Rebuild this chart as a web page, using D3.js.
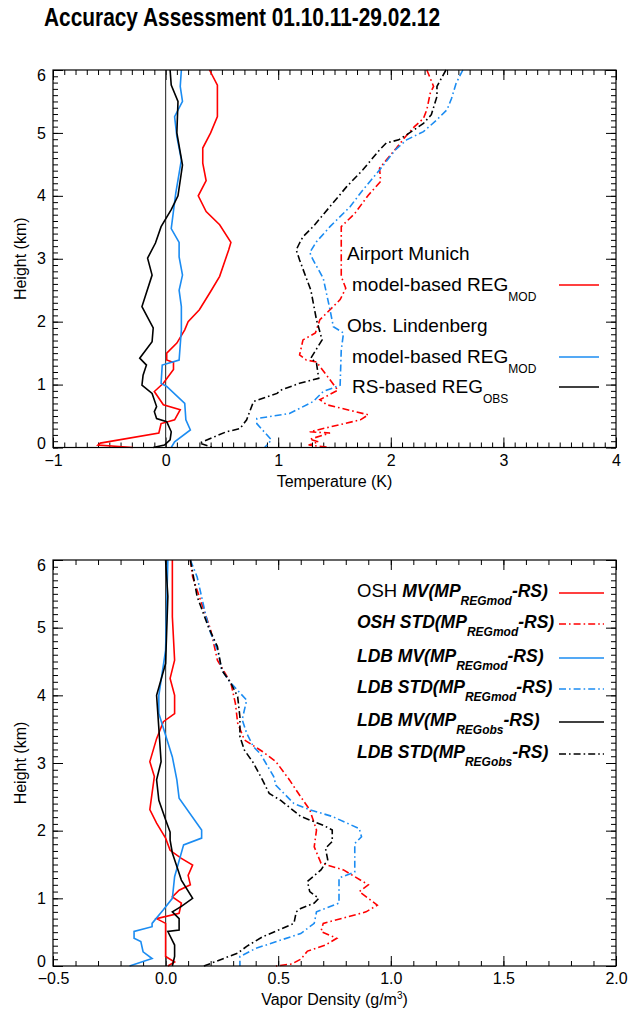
<!DOCTYPE html>
<html>
<head>
<meta charset="utf-8">
<script src="https://cdn.jsdelivr.net/npm/d3@7"></script>
<style>
  body { margin: 0; background: #fff; }
  svg text { font-family: "Liberation Sans", Arial, Helvetica, sans-serif; }
</style>
</head>
<body>
<svg id="chart" width="635" height="1010"></svg>
<script>
// ---- data: [value, height in km] ----
// temperature panel (K)
var tMunMv = [[0.39,6],[0.46,5.76],[0.46,5.26],[0.40,5.0],[0.33,4.76],[0.33,4.52],[0.36,4.24],[0.29,4.0],[0.36,3.75],[0.48,3.54],[0.58,3.26],[0.56,3.14],[0.48,2.72],[0.40,2.48],[0.30,2.19],[0.20,2.0],[0.17,1.87],[0.10,1.66],[0.01,1.50],[0.01,1.39],[0.07,1.35],[0.07,1.24],[-0.02,1.02],[-0.10,0.89],[-0.02,0.68],[0.13,0.60],[0.08,0.44],[0.02,0.41],[-0.04,0.38],[-0.06,0.23],[-0.58,0.07],[-0.60,0.04],[-0.29,0.0]];
var tLdbMv = [[0.14,6],[0.13,5.74],[0.15,5.50],[0.08,5.26],[0.10,4.94],[0.14,4.57],[0.09,4.04],[0.05,3.48],[0.12,3.26],[0.12,3.03],[0.15,2.74],[0.12,2.50],[0.14,2.24],[0.14,1.87],[0.12,1.39],[-0.03,1.31],[-0.04,1.02],[0.01,0.97],[0.17,0.70],[0.18,0.44],[0.22,0.28],[0.08,0.09],[0.05,0.0]];
var tObsMv = [[0.04,6],[0.05,5.76],[0.11,5.50],[0.10,5.0],[0.15,4.49],[0.11,4.0],[0.05,3.78],[-0.04,3.51],[-0.09,3.25],[-0.16,3.01],[-0.12,2.74],[-0.21,2.24],[-0.11,1.90],[-0.12,1.68],[-0.23,1.42],[-0.17,1.31],[-0.20,1.15],[-0.21,0.99],[-0.12,0.86],[-0.08,0.65],[-0.10,0.57],[-0.08,0.46],[0.01,0.41],[0.05,0.25],[0.04,0.12],[-0.01,0.04],[-0.11,0.0]];
var tMunStd = [[2.32,6],[2.38,5.74],[2.35,5.63],[2.32,5.37],[2.29,5.23],[2.21,5.10],[2.13,4.94],[2.05,4.76],[1.96,4.57],[1.90,4.44],[1.91,4.23],[1.80,4.01],[1.68,3.72],[1.56,3.51],[1.56,2.98],[1.56,2.72],[1.60,2.53],[1.55,2.35],[1.37,2.03],[1.33,1.82],[1.22,1.71],[1.19,1.47],[1.25,1.39],[1.34,1.36],[1.53,0.91],[1.37,0.76],[1.43,0.68],[1.80,0.52],[1.73,0.44],[1.28,0.25],[1.46,0.23],[1.28,0.13],[1.36,0.09],[1.27,0.04],[1.46,0.0]];
var tLdbStd = [[2.64,6],[2.58,5.79],[2.54,5.55],[2.50,5.37],[2.41,5.21],[2.29,5.02],[2.14,4.89],[2.04,4.73],[1.90,4.41],[1.75,4.09],[1.64,3.83],[1.46,3.51],[1.34,3.27],[1.28,3.10],[1.31,2.98],[1.40,2.69],[1.46,2.19],[1.49,1.92],[1.58,1.82],[1.56,1.55],[1.55,0.99],[1.40,0.89],[1.31,0.73],[1.10,0.54],[0.81,0.46],[0.81,0.38],[0.94,0.12],[0.88,0.0]];
var tObsStd = [[2.49,6],[2.41,5.74],[2.41,5.58],[2.36,5.29],[2.29,5.15],[2.14,4.97],[2.07,4.89],[1.96,4.84],[1.90,4.73],[1.75,4.41],[1.61,4.15],[1.46,3.83],[1.31,3.51],[1.22,3.35],[1.19,3.25],[1.16,3.14],[1.19,2.98],[1.29,2.50],[1.34,2.03],[1.39,1.71],[1.29,1.42],[1.34,1.34],[1.36,1.10],[1.19,1.02],[1.02,0.91],[0.99,0.86],[0.78,0.73],[0.72,0.44],[0.66,0.30],[0.54,0.25],[0.30,0.07],[0.42,0.0]];

// vapor density panel (g/m3)
var vOshMv = [[0.03,6],[0.03,5.16],[0.04,4.52],[0.02,4.25],[0.04,4.0],[0.04,3.73],[-0.01,3.61],[-0.04,3.36],[-0.07,3.02],[-0.05,2.80],[-0.07,2.31],[-0.04,2.11],[0.00,1.89],[0.02,1.71],[0.07,1.59],[0.12,1.49],[0.10,1.34],[0.11,1.20],[0.06,1.12],[0.03,1.02],[0.07,0.93],[0.06,0.78],[-0.04,0.70],[0.00,0.63],[0.00,0.26],[0.00,0.14],[0.04,0.06],[0.01,0.0]];
var vLdbMv = [[0.01,6],[0.00,4.67],[-0.03,4.0],[-0.03,3.73],[0.00,3.41],[0.03,3.09],[0.05,2.75],[0.06,2.48],[0.16,2.01],[0.16,1.89],[0.08,1.79],[0.04,1.32],[0.03,1.00],[-0.01,0.83],[-0.06,0.63],[-0.06,0.58],[-0.14,0.51],[-0.14,0.41],[-0.11,0.36],[-0.10,0.21],[-0.06,0.11],[-0.16,0.0]];
var vObsMv = [[0.00,6],[0.01,5.46],[0.00,4.47],[-0.04,4.0],[-0.02,3.02],[-0.04,2.75],[-0.03,2.45],[0.00,2.16],[0.02,1.98],[0.02,1.86],[0.03,1.67],[0.05,1.47],[0.07,1.27],[0.12,1.00],[0.07,0.88],[0.03,0.80],[0.06,0.70],[0.06,0.53],[0.01,0.51],[0.04,0.31],[0.04,0.14],[0.03,0.0]];
var vOshStd = [[0.11,6],[0.12,5.75],[0.17,5.26],[0.20,4.97],[0.23,4.52],[0.29,4.18],[0.31,3.88],[0.32,3.59],[0.35,3.34],[0.43,3.17],[0.49,3.02],[0.55,2.75],[0.60,2.50],[0.64,2.31],[0.67,2.01],[0.66,1.76],[0.69,1.52],[0.79,1.42],[0.90,1.20],[0.86,1.10],[0.94,0.90],[0.89,0.80],[0.70,0.63],[0.69,0.51],[0.76,0.41],[0.71,0.31],[0.63,0.22],[0.60,0.10],[0.56,0.03],[0.49,0.0]];
var vLdbStd = [[0.11,6],[0.14,5.75],[0.18,5.16],[0.20,4.92],[0.23,4.67],[0.25,4.37],[0.29,4.18],[0.36,3.93],[0.34,3.64],[0.36,3.44],[0.39,3.24],[0.42,3.14],[0.48,2.80],[0.49,2.67],[0.57,2.40],[0.64,2.31],[0.74,2.21],[0.86,2.03],[0.87,1.91],[0.84,1.81],[0.84,1.39],[0.77,1.30],[0.77,0.93],[0.67,0.80],[0.66,0.63],[0.60,0.48],[0.40,0.26],[0.33,0.14],[0.33,0.0]];
var vObsStd = [[0.11,6],[0.14,5.46],[0.19,5.01],[0.23,4.72],[0.25,4.37],[0.29,4.18],[0.32,3.98],[0.33,3.68],[0.33,3.39],[0.35,3.19],[0.39,3.0],[0.43,2.75],[0.46,2.55],[0.51,2.45],[0.60,2.21],[0.70,2.08],[0.74,2.01],[0.74,1.84],[0.71,1.74],[0.72,1.57],[0.69,1.42],[0.63,1.25],[0.64,1.10],[0.68,1.00],[0.66,0.93],[0.60,0.85],[0.58,0.80],[0.57,0.63],[0.43,0.43],[0.36,0.29],[0.32,0.19],[0.17,0.0]];

var tempTicks = [-1, 0, 1, 2, 3, 4];
var vapTicks = [-0.5, 0.0, 0.5, 1.0, 1.5, 2.0];
var heightTicks = [0, 1, 2, 3, 4, 5, 6];

var RED = "#ff0000", BLUE = "#1b8cf2", BLACK = "#000000";
var DASHDOT = "7,3,1.6,3";

var svg = d3.select("#chart");
svg.append("rect").attr("width", 635).attr("height", 1010).attr("fill", "#fff");

svg.append("text")
    .attr("x", 44).attr("y", 26)
    .attr("font-size", 25).attr("font-weight", "bold")
    .attr("textLength", 396).attr("lengthAdjust", "spacingAndGlyphs")
    .text("Accuracy Assessment 01.10.11-29.02.12");

function panel(opt) {
    var x = d3.scaleLinear().domain(opt.xDomain).range([53, 616]);
    var y = d3.scaleLinear().domain([0, 6]).range([opt.bottom, opt.top]);
    var g = svg.append("g");

    var minorX = d3.range(Math.round(opt.xDomain[0] * 10), Math.round(opt.xDomain[1] * 10) + 1).map(function(i){ return i / 10; });
    var minorY = d3.range(0, 61).map(function(i){ return i / 10; });

    function axes(axisFn, scale, pos, minor, major, fmt, labels) {
        var gm = g.append("g").attr("transform", pos)
            .call(axisFn(scale).tickValues(minor).tickSize(-5).tickSizeOuter(0).tickFormat(""));
        gm.select(".domain").remove();
        var ga = g.append("g").attr("transform", pos)
            .call(axisFn(scale).tickValues(major).tickSize(-10).tickSizeOuter(0)
                .tickPadding(labels ? 7 : 0).tickFormat(labels ? fmt : ""));
        ga.select(".domain").remove();
        ga.selectAll("text").attr("font-size", 16).attr("fill", "#000")
            .style("font-family", "'Liberation Sans', Arial, sans-serif");
        g.selectAll(".tick line").attr("stroke", "#000").attr("stroke-width", 1);
        return ga;
    }
    axes(d3.axisBottom, x, "translate(0," + opt.bottom + ")", minorX, opt.xTicks, opt.fmt, true);
    axes(d3.axisTop, x, "translate(0," + opt.top + ")", minorX, opt.xTicks, opt.fmt, false);
    var yl = axes(d3.axisLeft, y, "translate(53,0)", minorY, heightTicks, d3.format("d"), true);
    // end labels are nudged inward, as in the original
    yl.selectAll(".tick text").attr("y", function(d){ return d === 0 ? -4.5 : (d === 6 ? 5 : 0); });
    axes(d3.axisRight, y, "translate(616,0)", minorY, heightTicks, d3.format("d"), false);

    // zero line
    g.append("line")
        .attr("x1", x(0)).attr("x2", x(0))
        .attr("y1", opt.top).attr("y2", opt.bottom)
        .attr("stroke", "#444").attr("stroke-width", 1.2);

    var line = d3.line().x(function(d){ return x(d[0]); }).y(function(d){ return y(d[1]); });
    opt.series.forEach(function(s) {
        g.append("path")
            .attr("d", line(s.data))
            .attr("fill", "none")
            .attr("stroke", s.color)
            .attr("stroke-width", 1.6)
            .attr("stroke-dasharray", s.dash ? DASHDOT : null);
    });

    // frame
    g.append("rect")
        .attr("x", 53).attr("y", opt.top)
        .attr("width", 563).attr("height", opt.bottom - opt.top)
        .attr("fill", "none").attr("stroke", "#000").attr("stroke-width", 1.2);

    g.append("text")
        .attr("x", 334.5).attr("y", opt.bottom + 39)
        .attr("text-anchor", "middle").attr("font-size", 16)
        .html(opt.xLabel);
    g.append("text")
        .attr("transform", "translate(26," + ((opt.top + opt.bottom) / 2) + ") rotate(-90)")
        .attr("text-anchor", "middle").attr("font-size", 16)
        .text("Height (km)");
    return { g: g, x: x, y: y };
}

var p1 = panel({
    xDomain: [-1, 4], xTicks: tempTicks, fmt: d3.format("d"),
    top: 70, bottom: 447.5, xLabel: "Temperature (K)",
    series: [
        { data: tMunStd, color: RED, dash: true },
        { data: tLdbStd, color: BLUE, dash: true },
        { data: tObsStd, color: BLACK, dash: true },
        { data: tMunMv, color: RED },
        { data: tLdbMv, color: BLUE },
        { data: tObsMv, color: BLACK }
    ]
});

var p2 = panel({
    xDomain: [-0.5, 2.0], xTicks: vapTicks, fmt: d3.format(".1f"),
    top: 560, bottom: 966, xLabel: "Vapor Density (g/m<tspan dy='-6' font-size='10'>3</tspan><tspan dy='6'>)</tspan>",
    series: [
        { data: vOshStd, color: RED, dash: true },
        { data: vLdbStd, color: BLUE, dash: true },
        { data: vObsStd, color: BLACK, dash: true },
        { data: vOshMv, color: RED },
        { data: vLdbMv, color: BLUE },
        { data: vObsMv, color: BLACK }
    ]
});

// ---- legend, temperature panel ----
var leg1 = [
    { head: "Airport Munich", y: 260 },
    { text: "model-based REG", sub: "MOD", y: 291, color: RED },
    { head: "Obs. Lindenberg", y: 332 },
    { text: "model-based REG", sub: "MOD", y: 363, color: BLUE },
    { text: "RS-based REG", sub: "OBS", y: 393, color: BLACK }
];
leg1.forEach(function(r) {
    if (r.head) {
        svg.append("text").attr("x", 347).attr("y", r.y).attr("font-size", 19).text(r.head);
        return;
    }
    var t = svg.append("text").attr("x", 352).attr("y", r.y).attr("font-size", 19);
    t.append("tspan").text(r.text);
    t.append("tspan").attr("dy", 10).attr("font-size", 12).text(r.sub);
    svg.append("line").attr("x1", 559).attr("x2", 599).attr("y1", r.y - 6).attr("y2", r.y - 6)
        .attr("stroke", r.color).attr("stroke-width", 1.6);
});

// ---- legend, vapor panel ----
var leg2 = [
    { pre: "OSH ", main: "MV(MP", sub: "REGmod", color: RED, dash: false },
    { main: "OSH STD(MP", sub: "REGmod", color: RED, dash: true },
    { main: "LDB MV(MP", sub: "REGmod", color: BLUE, dash: false },
    { main: "LDB STD(MP", sub: "REGmod", color: BLUE, dash: true },
    { main: "LDB MV(MP", sub: "REGobs", color: BLACK, dash: false },
    { main: "LDB STD(MP", sub: "REGobs", color: BLACK, dash: true }
];
var legY = [597, 628, 662, 693, 726, 758];
leg2.forEach(function(r, i) {
    var t = svg.append("text").attr("x", 357).attr("y", legY[i]).attr("font-size", 17.5);
    if (r.pre) t.append("tspan").attr("font-size", 18.5).text(r.pre);
    t.append("tspan").attr("font-weight", "bold").attr("font-style", "italic").text(r.main);
    t.append("tspan").attr("font-weight", "bold").attr("font-style", "italic")
        .attr("dy", 8).attr("font-size", 12).text(r.sub);
    t.append("tspan").attr("font-weight", "bold").attr("font-style", "italic")
        .attr("dy", -8).text("-RS)");
    svg.append("line").attr("x1", 559).attr("x2", 604).attr("y1", legY[i] - 4).attr("y2", legY[i] - 4)
        .attr("stroke", r.color).attr("stroke-width", 1.4)
        .attr("stroke-dasharray", r.dash ? DASHDOT : null);
});
</script>
</body>
</html>
